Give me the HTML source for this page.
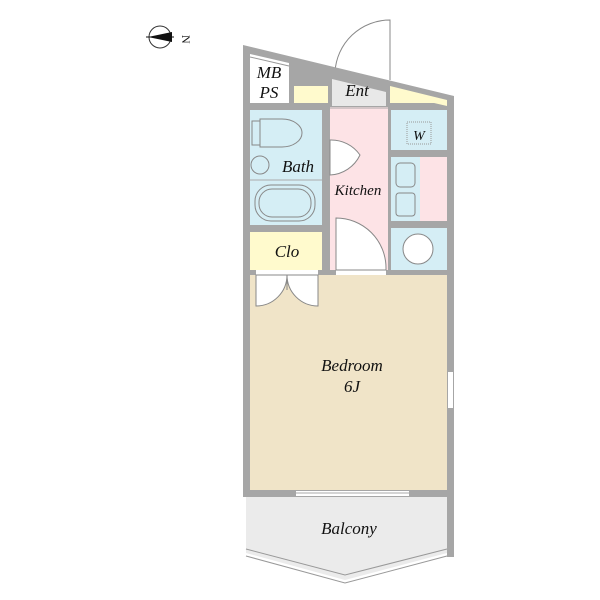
<!DOCTYPE html>
<html><head><style>body{margin:0;background:#fff}svg{display:block}text{font-family:"Liberation Serif",serif;font-style:italic;fill:#111}</style></head><body>
<svg width="600" height="600" viewBox="0 0 600 600">
<!-- compass -->
<circle cx="160" cy="37" r="11" fill="#fff" stroke="#333" stroke-width="1"/>
<path d="M148,37 L172,32 L172,42 Z" fill="#111"/>
<line x1="146" y1="37" x2="174" y2="37" stroke="#111"/>
<text x="184" y="41" font-size="12" transform="rotate(90 186 37)" style="font-style:normal">N</text>
<!-- door arc ent -->
<path d="M335,72 A55,55 0 0 1 390,20 L390,80" fill="#fff" stroke="#888" stroke-width="1"/>
<!-- balcony -->
<path d="M246,497 L447,497 L447,553 L345,580 L246,553 Z" fill="#ebebeb"/>
<path d="M246,549 L345,575 L447,549 M246,556 L345,583 L447,556" fill="none" stroke="#999"/>
<!-- outer walls + top fill -->
<path d="M243,45 L454,96 L454,557 L447,557 L447,110 L250,110 L250,497 L243,497 Z" fill="#a6a6a6"/>
<rect x="243" y="490" width="211" height="7" fill="#a6a6a6"/>
<rect x="296" y="491" width="113" height="5" fill="#fff"/>
<line x1="296" y1="493" x2="409" y2="493" stroke="#aaa"/>
<rect x="448" y="372" width="5" height="36" fill="#fff"/>
<!-- rooms top -->
<path d="M250,54 L289,63 L289,103 L250,103 Z" fill="#fff"/>
<line x1="250" y1="57" x2="289" y2="66" stroke="#999"/>
<rect x="294" y="86" width="34" height="17" fill="#fffacd"/>
<path d="M332,79 L386,92 L386,106 L332,106 Z" fill="#e8e8e8"/>
<path d="M391,93 L447,106 L447,103 L391,103 Z" fill="#fffacd"/>
<path d="M390,86 L447,100 L447,103 L390,103 Z" fill="#fffacd"/>
<rect x="322" y="107" width="8" height="168" fill="#a6a6a6"/>
<rect x="250" y="110" width="72" height="115" fill="#d5eef5"/>
<rect x="330" y="107" width="58" height="168" fill="#fde3e6"/>
<line x1="330" y1="108" x2="388" y2="108" stroke="#aaa"/>
<rect x="388" y="110" width="3" height="165" fill="#a6a6a6"/>
<rect x="391" y="110" width="56" height="40" fill="#d5eef5"/>
<rect x="407" y="122" width="24" height="22" fill="none" stroke="#999" stroke-dasharray="1,1"/>
<rect x="388" y="150" width="59" height="7" fill="#a6a6a6"/>
<rect x="391" y="157" width="29" height="64" fill="#d5eef5"/>
<rect x="420" y="157" width="27" height="64" fill="#fde3e6"/>
<rect x="396" y="163" width="19" height="24" rx="4" fill="none" stroke="#888"/>
<rect x="396" y="193" width="19" height="23" rx="3" fill="none" stroke="#888"/>
<rect x="388" y="221" width="59" height="7" fill="#a6a6a6"/>
<rect x="391" y="228" width="56" height="42" fill="#d5eef5"/>
<circle cx="418" cy="249" r="15" fill="#fff" stroke="#888"/>
<!-- bath fixtures -->
<rect x="252" y="121" width="8" height="24" fill="none" stroke="#888"/>
<path d="M260,119 L282,119 A20,14 0 0 1 282,147 L260,147 Z" fill="none" stroke="#888"/>
<circle cx="260" cy="165" r="9" fill="none" stroke="#888"/>
<line x1="250" y1="180" x2="322" y2="180" stroke="#aaa"/>
<rect x="255" y="185" width="60" height="36" rx="16" fill="none" stroke="#888"/>
<rect x="259" y="189" width="52" height="28" rx="13" fill="none" stroke="#888"/>
<!-- bath door -->
<path d="M330,140 L330,175 A35,35 0 0 0 360,155 A35,35 0 0 0 330,140 Z" fill="#fff" stroke="#888"/>
<!-- clo -->
<rect x="250" y="225" width="72" height="7" fill="#a6a6a6"/>
<rect x="250" y="232" width="72" height="38" fill="#fffacd"/>
<rect x="243" y="270" width="211" height="5" fill="#a6a6a6"/>
<rect x="336" y="270" width="50" height="5" fill="#fff"/>
<rect x="256" y="270" width="62" height="5" fill="#fff"/>
<!-- kitchen door -->
<path d="M336,270 L336,218 A50,50 0 0 1 386,268 L386,270 Z" fill="#fff" stroke="#888"/>
<!-- bedroom -->
<rect x="250" y="275" width="197" height="215" fill="#f0e4c8"/>
<path d="M256,275 L256,306 A31,31 0 0 0 287,275 A31,31 0 0 0 318,306 L318,275 Z" fill="#fff" stroke="#888"/>
<line x1="287" y1="275" x2="287" y2="290" stroke="#888"/>
<!-- labels -->
<text x="269" y="78" font-size="17" text-anchor="middle">MB</text>
<text x="269" y="98" font-size="17" text-anchor="middle">PS</text>
<text x="357" y="96" font-size="17" text-anchor="middle">Ent</text>
<text x="419" y="140" font-size="14" text-anchor="middle">W</text>
<text x="298" y="172" font-size="17" text-anchor="middle">Bath</text>
<text x="358" y="195" font-size="15" text-anchor="middle">Kitchen</text>
<text x="287" y="257" font-size="17" text-anchor="middle">Clo</text>
<text x="352" y="371" font-size="17" text-anchor="middle">Bedroom</text>
<text x="352" y="392" font-size="17" text-anchor="middle">6J</text>
<text x="349" y="534" font-size="17" text-anchor="middle">Balcony</text>
</svg>
</body></html>
